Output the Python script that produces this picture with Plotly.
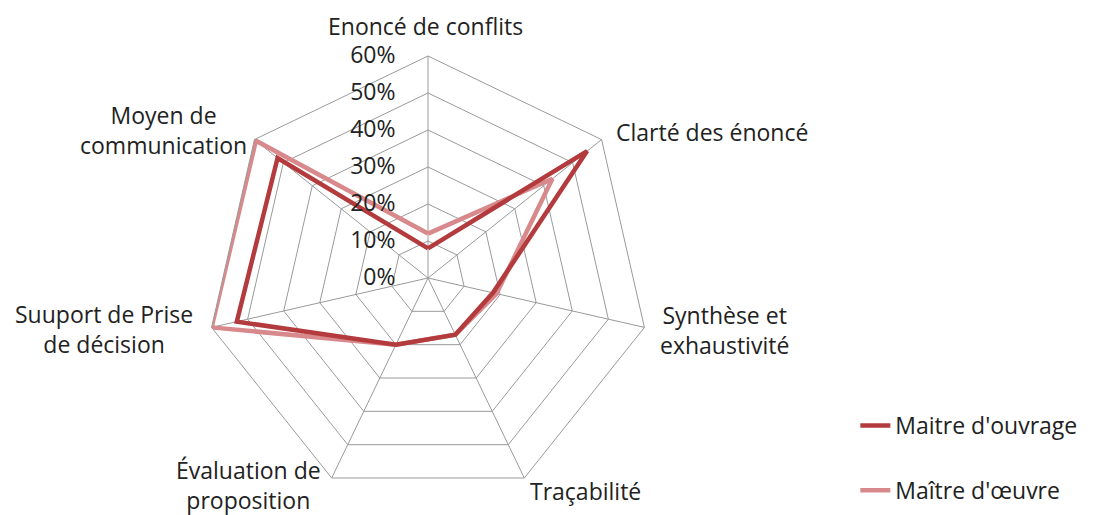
import plotly.graph_objects as go

categories = ["Enoncé de conflits", "Clarté des énoncé", "Synthèse et<br>exhaustivité",
              "Traçabilité", "Évaluation de<br>proposition", "Suuport de Prise<br>de décision",
              "Moyen de<br>communication"]
maitre_ouvrage = [0.08, 0.55, 0.18, 0.17, 0.20, 0.53, 0.52]
maitre_oeuvre = [0.12, 0.43, 0.19, 0.17, 0.20, 0.60, 0.595]
radial_ticks = [0, 0.1, 0.2, 0.3, 0.4, 0.5, 0.6]

# layout: pixel centres of the category labels (figure pixels from top-left)
label_pos = [(425, 26), (712, 132), (724, 330), (585, 491), (248, 485), (104, 329), (163, 130)]

W, H = 1098, 515
cx, cy, R = 428, 278, 222

fig = go.Figure()
fig.add_trace(go.Scatterpolar(
    r=maitre_oeuvre + maitre_oeuvre[:1], theta=categories + categories[:1],
    mode="lines", name="Maître d'œuvre", legendgroup="b", legendrank=2,
    line=dict(color="#D8898B", width=4.5)))
fig.add_trace(go.Scatterpolar(
    r=maitre_ouvrage + maitre_ouvrage[:1], theta=categories + categories[:1],
    mode="lines", name="Maitre d'ouvrage", legendgroup="a", legendrank=1,
    line=dict(color="#B33B3D", width=4.5)))

annotations = [
    dict(text=c, x=px / W, y=1 - py / H, xref="paper", yref="paper",
         xanchor="center", yanchor="middle", align="center", showarrow=False,
         font=dict(size=23, color="#222"))
    for c, (px, py) in zip(categories, label_pos)
]

fig.update_layout(
    width=W, height=H,
    margin=dict(l=0, r=0, t=0, b=0),
    paper_bgcolor="white", plot_bgcolor="white",
    font=dict(family="Open Sans, Lato, sans-serif", size=20, color="#222"),
    annotations=annotations,
    polar=dict(
        domain=dict(x=[(cx - R) / W, (cx + R) / W],
                    y=[(H - cy - R) / H, (H - cy + R) / H]),
        gridshape="linear",
        bgcolor="white",
        angularaxis=dict(direction="clockwise", rotation=90,
                         linecolor="#9a9a9a", linewidth=1,
                         gridcolor="#9a9a9a", gridwidth=1,
                         showline=True, ticks="", showticklabels=False),
        radialaxis=dict(range=[0, 0.6], tickvals=radial_ticks,
                        tickformat=".0%", angle=90, tickangle=90,
                        side="counterclockwise", showline=False,
                        gridcolor="#9a9a9a", gridwidth=1,
                        ticks="outside", ticklen=24, tickcolor="rgba(0,0,0,0)",
                        tickfont=dict(size=23, color="#222")),
    ),
    legend=dict(x=0.779, y=0.2155, xanchor="left", yanchor="top",
                tracegroupgap=32, font=dict(size=23),
                traceorder="grouped"),
)
fig.write_html("out.html", config={"displayModeBar": False},
               post_script="document.body.style.margin='0';document.body.style.overflow='hidden';")
